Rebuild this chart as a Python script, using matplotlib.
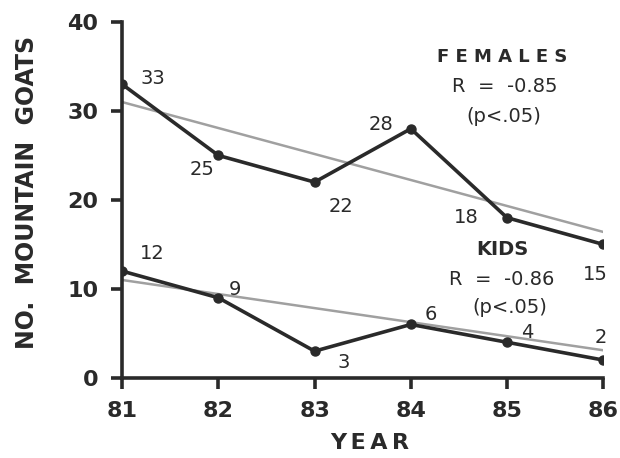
import matplotlib.pyplot as plt
import numpy as np

years = [81, 82, 83, 84, 85, 86]
females = [33, 25, 22, 28, 18, 15]
kids = [12, 9, 3, 6, 4, 2]

# regression end points
fem_trend = [31.0, 16.4]
kid_trend = [11.0, 3.1]

# label offsets (data units) for each point value
fem_off = [(0.32, 0.7), (-0.17, -1.6), (0.27, -2.7), (-0.31, 0.5), (-0.42, 0.0), (-0.08, -3.4)]
kid_off = [(0.31, 2.0), (0.17, 0.9), (0.3, -1.3), (0.21, 1.1), (0.21, 1.1), (-0.03, 2.5)]

fig = plt.figure(figsize=(6.2, 4.58), dpi=100)
ax = fig.add_axes([0.197, 0.175, 0.776, 0.777])

ink = '#2a2a2a'
ax.plot([years[0], years[-1]], fem_trend, color='#a0a0a0', lw=1.8, zorder=1)
ax.plot([years[0], years[-1]], kid_trend, color='#a0a0a0', lw=1.8, zorder=1)
ax.plot(years, females, color=ink, lw=2.6, marker='o', ms=6.5, zorder=2)
ax.plot(years, kids, color=ink, lw=2.6, marker='o', ms=6.5, zorder=2)

for x, v, (dx, dy) in zip(years, females, fem_off):
    ax.text(x + dx, v + dy, str(v), fontsize=14, color=ink, ha='center', va='center')
for x, v, (dx, dy) in zip(years, kids, kid_off):
    ax.text(x + dx, v + dy, str(v), fontsize=14, color=ink, ha='center', va='center')

ax.text(84.95, 36.1, 'F E M A L E S', fontsize=13, fontweight='bold', color=ink, ha='center', va='center')
ax.text(84.98, 32.7, 'R  =  -0.85', fontsize=14, color=ink, ha='center', va='center')
ax.text(84.97, 29.4, '(p<.05)', fontsize=14, color=ink, ha='center', va='center')
ax.text(84.95, 14.4, 'KIDS', fontsize=14, fontweight='bold', color=ink, ha='center', va='center')
ax.text(84.94, 11.0, 'R  =  -0.86', fontsize=14, color=ink, ha='center', va='center')
ax.text(85.03, 7.9, '(p<.05)', fontsize=14, color=ink, ha='center', va='center')

ax.set_xlim(81, 86)
ax.set_ylim(0, 40)
ax.set_xticks(years)
ax.set_yticks([0, 10, 20, 30, 40])
ax.spines['top'].set_visible(False)
ax.spines['right'].set_visible(False)
for s in ['left', 'bottom']:
    ax.spines[s].set_linewidth(2.6)
    ax.spines[s].set_color(ink)
ax.tick_params(direction='out', length=8, width=2.6, color=ink, labelcolor=ink, labelsize=16, pad=9)
for lab in ax.get_xticklabels() + ax.get_yticklabels():
    lab.set_fontweight('bold')

fig.text(370 / 620, 1 - 443 / 458, 'Y\u2009E\u2009A\u2009R', fontsize=16, fontweight='bold',
         color=ink, ha='center', va='center')
fig.text(27 / 620, 1 - 192 / 458, 'NO.  MOUNTAIN  GOATS', fontsize=17, fontweight='bold',
         color=ink, ha='center', va='center', rotation=90)

fig.savefig('out.png', dpi=100)
